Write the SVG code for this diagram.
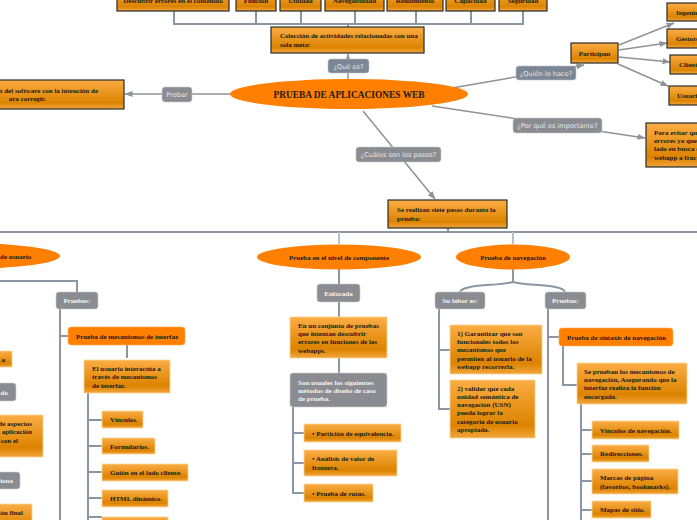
<svg xmlns="http://www.w3.org/2000/svg" width="697" height="520" viewBox="0 0 697 520">
<defs>
<linearGradient id="og" x1="0" y1="0" x2="0" y2="1">
<stop offset="0" stop-color="#fbad45"/>
<stop offset="0.78" stop-color="#dc8300"/>
<stop offset="1" stop-color="#f2a53c"/>
</linearGradient>
<marker id="ar" markerWidth="8" markerHeight="6" refX="7.5" refY="3" orient="auto" markerUnits="userSpaceOnUse">
<path d="M0,0 L8,3 L0,6 z" fill="#8f9296"/>
</marker>
</defs>
<style>
.ob{fill:url(#og);stroke:#2a2a2a;stroke-width:1.2}
.obl{fill:url(#og);stroke:#fcd596;stroke-width:0.8}
.ro{fill:#ff7f00;stroke:#ffb060;stroke-width:0.6}
.el{fill:#ff7f00}
.gl{fill:#8b8c91;stroke:#c9cbcf;stroke-width:0.6}
.sl{fill:#7b8794;stroke:#b9c1c9;stroke-width:0.6}
.t{font-family:"Liberation Serif","Times New Roman",serif;font-weight:bold;font-size:7px;fill:#1a1a1a}
.tw{font-family:"Liberation Serif","Times New Roman",serif;font-weight:bold;font-size:7px;fill:#f4f4f4}
.ls{font-family:"DejaVu Sans",sans-serif;font-size:6.6px;fill:#e6e8ea}
.c{stroke:#8a97a2;stroke-width:2;fill:none}
.cl{stroke:#b7c0c8;stroke-width:2;fill:none}
.a{stroke:#8f9296;stroke-width:1.5;fill:none}
.m{text-anchor:middle}
.e{text-anchor:end}
</style>

<g id="connectors">
<path class="c" d="M174,11V24H523V11M256,11V24M301,11V24M355,11V24M416,11V24M471,11V24M348,24V27"/>
<path class="a" d="M348,79V54" marker-end="url(#ar)"/>
<path class="a" d="M231,94H125" marker-end="url(#ar)"/>
<path class="a" d="M452,88L584,65" marker-end="url(#ar)"/>
<path class="a" d="M619,45L674,23" marker-end="url(#ar)"/>
<path class="a" d="M619,50L667,43" marker-end="url(#ar)"/>
<path class="a" d="M619,57L670,62" marker-end="url(#ar)"/>
<path class="a" d="M618,64L668,86" marker-end="url(#ar)"/>
<path class="a" d="M432,106L645,138" marker-end="url(#ar)"/>
<path class="a" d="M363,111L435,199" marker-end="url(#ar)"/>
<path class="c" d="M0,232H697M448,228V232"/>
<path class="cl" d="M339,232V244M513,232V244"/>
<path class="c" d="M0,281H77V292"/>
<path class="c" d="M60,309V520M60,336H68M127,345V358M88,393V520M88,420H102M88,446H102M88,472H102M88,498H102M88,517H102"/>
<path class="c" d="M339,269V284M339,302V317M339,358V373M293,407V493H304M293,433H304M293,463H304"/>
<path class="c" d="M513,269V282M513,282C500,286 462,284 460,292M513,282C526,286 563,284 565,292"/>
<path class="c" d="M439,309V409H450M439,350H450"/>
<path class="c" d="M548,309V520M548,337H559M563,346V385H577M581,404V520M581,430H592M581,454H592M581,481H592M581,510H592"/>
</g>

<g id="top-descubrir"><rect class="ob" x="117" y="-10" width="112" height="21"/><text class="t m" x="173" y="3">Descubrir errores en el contenido</text></g>
<g id="top-funcion"><rect class="ob" x="236" y="-10" width="40" height="21"/><text class="t m" x="256" y="3">Función</text></g>
<g id="top-utilidad"><rect class="ob" x="280" y="-10" width="41" height="21"/><text class="t m" x="300.5" y="3">Utilidad</text></g>
<g id="top-navegabilidad"><rect class="ob" x="325" y="-10" width="59" height="21"/><text class="t m" x="354.5" y="3">Navegabilidad</text></g>
<g id="top-rendimiento"><rect class="ob" x="387" y="-10" width="56" height="21"/><text class="t m" x="415" y="3">Rendimiento</text></g>
<g id="top-capacidad"><rect class="ob" x="446" y="-10" width="49" height="21"/><text class="t m" x="470.5" y="3">Capacidad</text></g>
<g id="top-seguridad"><rect class="ob" x="499" y="-10" width="48" height="21"/><text class="t m" x="523" y="3">Seguridad</text></g>

<g id="coleccion"><rect class="ob" x="271" y="27" width="153" height="26"/><text class="t" x="280" y="38">Colección de actividades relacionadas con una</text><text class="t" x="280" y="47">sola meta:</text></g>

<g id="lbl-que"><rect class="sl" x="328" y="59" width="41" height="14" rx="3"/><text class="ls m" x="348.5" y="68.5">¿Qué es?</text></g>

<g id="main"><ellipse class="el" cx="349" cy="94" rx="119" ry="15"/><text class="m" x="349" y="97.5" font-family="Liberation Serif, serif" font-weight="bold" font-size="9.4" fill="#1a1a1a">PRUEBA DE APLICACIONES WEB</text></g>

<g id="lbl-probar"><rect class="gl" x="162" y="87" width="30" height="15" rx="3"/><text class="ls m" x="177" y="97">Probar</text></g>
<g id="def"><rect class="ob" x="-20" y="80" width="144" height="29"/><text class="t e" x="98" y="93">n del software con la intención de</text><text class="t e" x="46" y="101">ara corregir.</text></g>

<g id="lbl-quien"><rect class="sl" x="516" y="66" width="60" height="14" rx="3"/><text class="ls m" x="546" y="75.5">¿Quién lo hace?</text></g>
<g id="participan"><rect class="ob" x="571" y="43" width="47" height="20"/><text class="t m" x="594.5" y="55.5">Participan</text></g>
<g id="ingenieros"><rect class="ob" x="667" y="3" width="40" height="18"/><text class="t" x="676" y="14.5">Ingenieros</text></g>
<g id="gestores"><rect class="ob" x="667" y="29" width="40" height="19"/><text class="t" x="676" y="41">Gestores</text></g>
<g id="clientes"><rect class="ob" x="670" y="55" width="40" height="19"/><text class="t" x="679" y="67">Clientes</text></g>
<g id="usuarios"><rect class="ob" x="669" y="86" width="40" height="19"/><text class="t" x="677" y="98">Usuarios</text></g>

<g id="lbl-porque"><rect class="gl" x="513" y="118" width="89" height="15" rx="3"/><text class="ls m" x="557.5" y="128">¿Por qué es importante?</text></g>
<g id="evitar"><rect class="ob" x="646" y="123" width="60" height="44"/><text class="t" x="654" y="135">Para evitar que</text><text class="t" x="654" y="143">errores ya que</text><text class="t" x="654" y="151">lado en busca d</text><text class="t" x="654" y="159.5">webapp a frac</text></g>

<g id="lbl-cuales"><rect class="gl" x="356" y="147" width="85" height="15" rx="3"/><text class="ls m" x="398.5" y="157">¿Cuáles son los pasos?</text></g>
<g id="siete"><rect class="ob" x="388" y="200" width="119" height="28"/><text class="t" x="397" y="212">Se realizan siete pasos durante la</text><text class="t" x="397" y="220.5">prueba:</text></g>

<g id="usuario"><ellipse class="el" cx="-40" cy="256" rx="100" ry="13"/><text class="t" x="0" y="258.5">de usuario</text></g>
<g id="pruebas-u"><rect class="gl" x="56" y="292" width="42" height="17" rx="3"/><text class="tw m" x="77" y="303">Pruebas:</text></g>
<g id="mec-interfaz"><rect class="ro" x="68" y="327" width="117" height="18" rx="3"/><text class="t" x="76" y="338.5">Prueba de mecanismos de interfaz</text></g>
<g id="interactua"><rect class="obl" x="84" y="360" width="86" height="33"/><text class="t" x="92" y="371">El usuario interactúa a</text><text class="t" x="92" y="379">través de mecanismos</text><text class="t" x="92" y="387.5">de interfaz.</text></g>
<g id="vinculos"><rect class="obl" x="102" y="411" width="41" height="17"/><text class="t" x="110" y="422">Vínculos.</text></g>
<g id="formularios"><rect class="obl" x="102" y="438" width="53" height="16"/><text class="t" x="110" y="448.5">Formularios.</text></g>
<g id="guion"><rect class="obl" x="102" y="464" width="86" height="17"/><text class="t" x="110" y="475">Guión en el lado cliente.</text></g>
<g id="html"><rect class="obl" x="102" y="490" width="66" height="17"/><text class="t" x="110" y="501">HTML dinámico.</text></g>
<g id="next-u"><rect class="obl" x="102" y="517" width="66" height="17"/></g>
<g id="left-a"><rect class="obl" x="-30" y="351" width="42" height="16"/><text class="t e" x="5" y="361.5">a</text></g>
<g id="left-do"><rect class="gl" x="-30" y="383" width="46" height="18" rx="3"/><text class="tw e" x="8" y="394.5">do</text></g>
<g id="left-aspectos"><rect class="obl" x="-50" y="415" width="93" height="42"/><text class="t e" x="32" y="426">de aspectos</text><text class="t e" x="32" y="434">aplicación</text><text class="t e" x="18" y="443">n con el</text></g>
<g id="left-ona"><rect class="gl" x="-30" y="472" width="50" height="17" rx="3"/><text class="tw e" x="13" y="483">iona</text></g>
<g id="left-final"><rect class="obl" x="-40" y="504" width="72" height="30"/><text class="t e" x="23" y="515">ión final</text></g>

<g id="componente"><ellipse class="el" cx="339" cy="257" rx="82" ry="12.5"/><text class="t m" x="339" y="259.5">Prueba en el nivel de componente</text></g>
<g id="enfocada"><rect class="gl" x="317" y="284" width="43" height="18" rx="3"/><text class="tw m" x="338.5" y="295.5">Enfocada</text></g>
<g id="conjunto"><rect class="obl" x="290" y="317" width="97" height="41"/><text class="t" x="298" y="328">En un conjunto de pruebas</text><text class="t" x="298" y="336">que intentan descubrir</text><text class="t" x="298" y="344">errores en funciones de las</text><text class="t" x="298" y="352.5">webapps.</text></g>
<g id="usuales"><rect class="gl" x="290" y="373" width="97" height="34" rx="3"/><text class="tw" x="298" y="385">Son usuales los siguientes</text><text class="tw" x="298" y="392.5">métodos de diseño de caso</text><text class="tw" x="298" y="400.5">de prueba.</text></g>
<g id="particion"><rect class="obl" x="304" y="424" width="97" height="18"/><text class="t" x="312" y="435.5">• Partición de equivalencia.</text></g>
<g id="frontera"><rect class="obl" x="304" y="450" width="93" height="26"/><text class="t" x="312" y="461">• Análisis de valor de</text><text class="t" x="312" y="469.5">frontera.</text></g>
<g id="rutas"><rect class="obl" x="304" y="484" width="69" height="18"/><text class="t" x="312" y="495.5">• Prueba de rutas.</text></g>

<g id="navegacion"><ellipse class="el" cx="513" cy="257" rx="57" ry="12.5"/><text class="t m" x="513" y="259.5">Prueba de navegación</text></g>
<g id="labor"><rect class="gl" x="435" y="292" width="50" height="17" rx="3"/><text class="tw m" x="460" y="303">Su labor es:</text></g>
<g id="garantizar"><rect class="obl" x="450" y="325" width="92" height="49"/><text class="t" x="457" y="336">1) Garantizar que son</text><text class="t" x="457" y="344">funcionales todos los</text><text class="t" x="457" y="352">mecanismos que</text><text class="t" x="457" y="360.5">permiten al usuario de la</text><text class="t" x="457" y="368.5">webapp recorrerla.</text></g>
<g id="validar"><rect class="obl" x="450" y="380" width="85" height="58"/><text class="t" x="457" y="391">2) validar que cada</text><text class="t" x="457" y="399">unidad semántica de</text><text class="t" x="457" y="407">navegación (USN)</text><text class="t" x="457" y="415">pueda lograr la</text><text class="t" x="457" y="423.5">categoría de usuario</text><text class="t" x="457" y="431.5">apropiada.</text></g>
<g id="pruebas-n"><rect class="gl" x="545" y="292" width="41" height="17" rx="3"/><text class="tw m" x="565.5" y="303">Pruebas:</text></g>
<g id="sintaxis"><rect class="ro" x="559" y="328" width="114" height="18" rx="3"/><text class="t" x="567" y="339.5">Prueba de sintaxis de navegación</text></g>
<g id="prueban"><rect class="obl" x="577" y="363" width="110" height="41"/><text class="t" x="584" y="374">Se prueban los mecanismos de</text><text class="t" x="584" y="382">navegación, Asegurando que la</text><text class="t" x="584" y="390">interfaz realiza la función</text><text class="t" x="584" y="398.5">encargada.</text></g>
<g id="vin-nav"><rect class="obl" x="592" y="421" width="87" height="18"/><text class="t" x="600" y="432.5">Vínculos de navegación.</text></g>
<g id="redir"><rect class="obl" x="592" y="445" width="57" height="17"/><text class="t" x="600" y="456">Redirecciones.</text></g>
<g id="marcas"><rect class="obl" x="592" y="469" width="86" height="25"/><text class="t" x="600" y="480">Marcas de página</text><text class="t" x="600" y="488.5">(favoritos, bookmarks).</text></g>
<g id="mapas"><rect class="obl" x="592" y="501" width="59" height="17"/><text class="t" x="600" y="512">Mapas de sitio.</text></g>
</svg>
